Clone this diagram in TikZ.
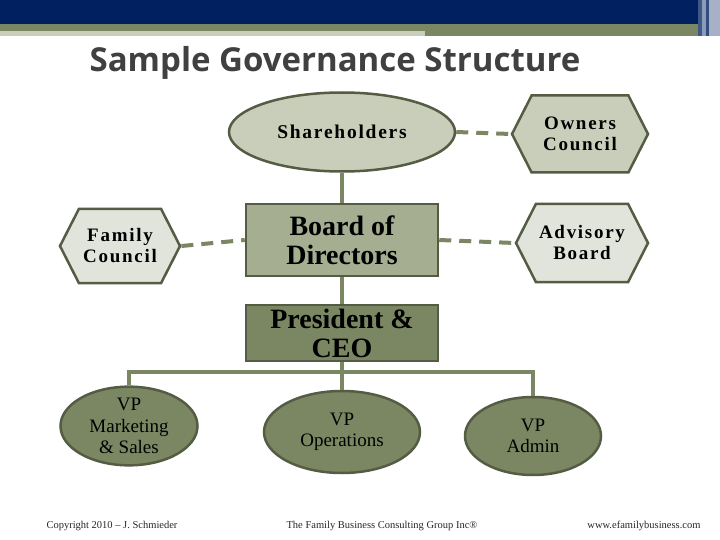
\documentclass[tikz,border=0pt]{standalone}
\usepackage{fontspec}
\setmainfont{Liberation Serif}
\newfontfamily\titlefont{Open Sans}
\newfontfamily\spacedfont[LetterSpace=9]{Liberation Serif}
\usepackage{tikz}
\definecolor{navyband}{RGB}{0, 32, 96}
\definecolor{olivegreen}{RGB}{123, 135, 99}
\definecolor{olivedark}{RGB}{84, 92, 68}
\definecolor{sagemid}{RGB}{166, 174, 146}
\definecolor{sagelight}{RGB}{200, 206, 185}
\definecolor{sagepale}{RGB}{225, 228, 218}
\definecolor{titlegray}{RGB}{64, 64, 64}
\usetikzlibrary{shapes, arrows, positioning, calc}

\begin{document}
\begin{tikzpicture}[x=1pt, y=-1pt,
    box/.style={rectangle, draw=olivedark, line width=2.5pt, align=center, inner sep=0pt, font=\fontsize{28}{29}\selectfont\bfseries},
    hexbox/.style={signal, signal to=east and west, signal pointer angle=126, draw=olivedark, line width=2.5pt, align=center, inner sep=0pt, font=\fontsize{19}{21}\selectfont\spacedfont\bfseries},
    oval/.style={ellipse, draw=olivedark, line width=2.5pt, align=center, inner sep=0pt},
    vpoval/.style={oval, fill=olivegreen, font=\fontsize{19}{21.5}\selectfont},
    solidlink/.style={olivegreen, line width=4pt},
    dashlink/.style={olivegreen, line width=4pt, dash pattern=on 12pt off 8pt},
    footer/.style={font=\fontsize{10.5}{12}\selectfont, text=black!85}
]
    \useasboundingbox (0,0) rectangle (720,540);

    % Top banner
    \fill[navyband] (0,0) rectangle (698,24);
    \fill[olivegreen] (0,24) rectangle (698,36);
    \fill[sagelight] (0,31) rectangle (425,36);
    \fill[navyband!75!white] (698,0) rectangle (702,36);
    \fill[navyband!45!white] (702,0) rectangle (706,36);
    \fill[navyband!80!white] (706,0) rectangle (709,36);
    \fill[navyband!35!white] (709,0) rectangle (720,36);

    \node[font=\titlefont\bfseries\fontsize{33}{40}\selectfont, text=titlegray] (title) at (335,63) {Sample Governance Structure};

    % Owners side
    \node[oval, fill=sagelight, minimum width=226, minimum height=79, font=\fontsize{19.5}{21}\selectfont\spacedfont\bfseries] (share) at (342,132) {Shareholders};
    \node[hexbox, fill=sagelight, minimum width=136, minimum height=77] (owners) at (580,134) {Owners\\Council};

    % Board level
    \node[box, fill=sagemid, minimum width=192, minimum height=72] (board) at (342,240) {Board of\\Directors};
    \node[hexbox, fill=sagepale, minimum width=132, minimum height=78] (advisory) at (582,243) {Advisory\\Board};
    \node[hexbox, fill=sagepale, minimum width=120, minimum height=74] (family) at (120,246) {Family\\Council};

    % Management
    \node[box, fill=olivegreen, minimum width=192, minimum height=56] (pres) at (342,333) {President \&\\CEO};
    \node[vpoval, minimum width=137, minimum height=74] (vpmkt) at (129,426) {VP\\Marketing\\\& Sales};
    \node[vpoval, minimum width=156, minimum height=82] (vpops) at (342,432) {VP\\Operations};
    \node[vpoval, minimum width=136, minimum height=78] (vpadm) at (533,436) {VP\\Admin};

    \coordinate (bus) at (342,372);

    \draw[solidlink] (share) -- (board);
    \draw[solidlink] (board) -- (pres);
    \draw[solidlink] (pres) -- (vpops);
    \draw[solidlink] (vpmkt.north) |- (bus) -| (vpadm.north);

    \draw[dashlink] (share.east) -- (owners.west);
    \draw[dashlink] (board.east) -- (advisory.west);
    \draw[dashlink] (family.east) -- (board.west);

    % Footer
    \node[footer, anchor=west] (copy) at (43,526) {Copyright 2010 -- J. Schmieder};
    \node[footer] (firm) at (382,526) {The Family Business Consulting Group Inc\textregistered};
    \node[footer, anchor=east] (web) at (704,526) {www.efamilybusiness.com};
\end{tikzpicture}
\end{document}
